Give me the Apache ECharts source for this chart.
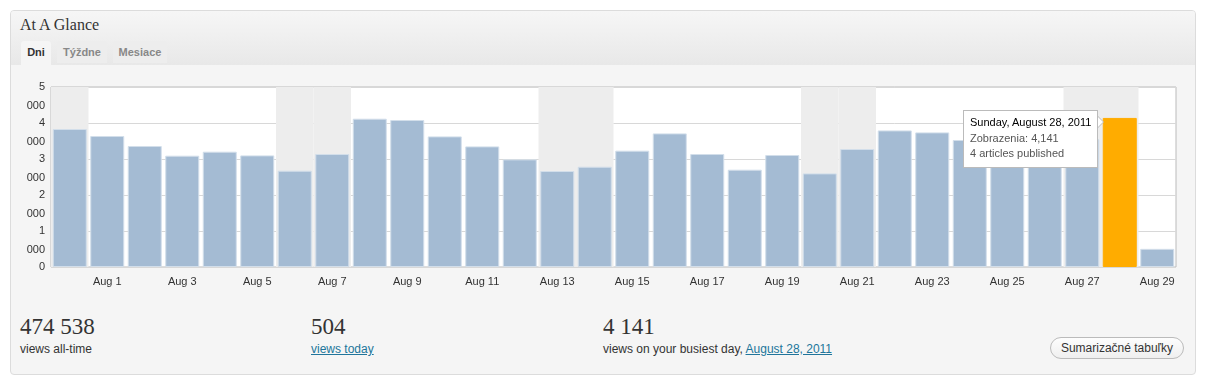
<!DOCTYPE html>
<html>
<head>
<meta charset="utf-8">
<script src="https://cdn.jsdelivr.net/npm/echarts@6/dist/echarts.min.js"></script>
<style>
  html, body { margin:0; padding:0; background:#fff; width:1206px; height:386px; overflow:hidden; font-family:"Liberation Sans", Arial, sans-serif; }
  #panel { position:absolute; left:10px; top:10px; width:1184px; height:363px; border:1px solid #dcdcdc; border-radius:4px; background:#f5f5f5; overflow:hidden; }
  #head { position:absolute; left:0; top:0; width:100%; height:54px; background:linear-gradient(#f6f6f6, #e8e8e8); }
  #title { position:absolute; left:9px; top:5px; font-family:"Liberation Serif", "DejaVu Serif", serif; font-size:16px; color:#333; }
  .tab { position:absolute; top:30px; height:22px; line-height:22px; font-size:11px; font-weight:bold; color:#888; background:#ededed; border-radius:3px 3px 0 0; text-align:center; }
  .tab.active { background:#f5f5f5; color:#333; height:24px; }
  #chart { position:absolute; left:0; top:65px; width:1206px; height:240px; }
  .big { position:absolute; top:314px; font-family:"Liberation Serif", "DejaVu Serif", serif; font-size:23px; color:#333; line-height:26px; }
  .lbl { position:absolute; top:342px; font-size:12px; color:#333; line-height:14px; }
  a { color:#21759b; text-decoration:underline; }
  #btn { position:absolute; left:1050px; top:337px; width:132px; height:20px; line-height:20px; border:1px solid #bbb; border-radius:11px; background:linear-gradient(#fdfdfd, #efefef); font-size:12px; color:#333; text-align:center; }
</style>
</head>
<body>
<div id="panel">
  <div id="head">
    <div id="title">At A Glance</div>
    <div class="tab active" style="left:10px;width:30px;">Dni</div>
    <div class="tab" style="left:46px;width:50px;">Týždne</div>
    <div class="tab" style="left:102px;width:54px;">Mesiace</div>
  </div>
</div>
<div id="chart"></div>
<div class="big" style="left:20px;">474 538</div>
<div class="lbl" style="left:20px;">views all-time</div>
<div class="big" style="left:311px;">504</div>
<div class="lbl" style="left:311px;"><a>views today</a></div>
<div class="big" style="left:603px;">4 141</div>
<div class="lbl" style="left:603px;">views on your busiest day, <a>August 28, 2011</a></div>
<div id="btn">Sumarizačné tabuľky</div>
<script>
// ---- data ----
const categories = ['Jul 31','Aug 1','Aug 2','Aug 3','Aug 4','Aug 5','Aug 6','Aug 7','Aug 8','Aug 9',
  'Aug 10','Aug 11','Aug 12','Aug 13','Aug 14','Aug 15','Aug 16','Aug 17','Aug 18','Aug 19',
  'Aug 20','Aug 21','Aug 22','Aug 23','Aug 24','Aug 25','Aug 26','Aug 27','Aug 28','Aug 29'];
const views = [3833, 3639, 3361, 3092, 3203, 3100, 2675, 3139, 4119, 4083,
  3628, 3350, 2989, 2667, 2786, 3231, 3711, 3139, 2703, 3111,
  2600, 3278, 3794, 3739, 3528, 3650, 3400, 3550, 4141, 504];
const weekend = [1,0,0,0,0,0,1,1,0,0, 0,0,0,1,1,0,0,0,0,0, 1,1,0,0,0,0,0,1,1,0];
const yTicks = [0, 1000, 2000, 3000, 4000, 5000];
const tipDate = 'Sunday, August 28, 2011';
const tipArticles = 4;

const yMax = yTicks[yTicks.length - 1];
const yStep = yTicks[1] - yTicks[0];
const busiest = views.indexOf(Math.max(...views));

const chart = echarts.init(document.getElementById('chart'), null, {renderer:'canvas'});
const font = '"Liberation Sans", Arial, sans-serif';
const yBase = { type:'value', min:yTicks[0], max:yMax, interval:yStep, position:'left',
  axisLine:{show:false}, axisTick:{show:false} };
chart.setOption({
  animation: false,
  grid: { left:51, top:22, width:1125, height:180, show:true, backgroundColor:'#fff', borderColor:'#bbb', borderWidth:1, outerBoundsMode:'none' },
  xAxis: [
    { type:'category', data:categories, boundaryGap:true,
      axisLine:{show:false}, axisTick:{show:false},
      axisLabel:{ interval:(i)=> i % 2 === 1, color:'#333', fontSize:11, fontFamily:font, margin:9 } },
    { type:'category', data:categories, show:false }
  ],
  yAxis: [
    Object.assign({}, yBase, {
      splitLine:{ lineStyle:{ color:'#d8d8d8' } },
      axisLabel:{ color:'#333', fontSize:11, fontFamily:font, margin:6, align:'right',
        showMinLabel:true, showMaxLabel:true,
        formatter:(v)=> String(v / 1000) } }),
    Object.assign({}, yBase, {
      splitLine:{ show:false },
      axisLabel:{ color:'#333', fontSize:11, fontFamily:font, margin:6, align:'right', verticalAlign:'top',
        padding:[13,0,0,0], showMinLabel:true, showMaxLabel:true,
        formatter:(v)=> v === 0 ? '' : '000' } })
  ],
  tooltip: { trigger:'item', alwaysShowContent:true, transitionDuration:0, showDelay:0,
    backgroundColor:'#fff', borderColor:'#bbb', borderWidth:1, padding:[4,6,5,6],
    extraCssText:'border-radius:0;box-shadow:none;overflow:visible;',
    textStyle:{ fontFamily:font, fontSize:11, color:'#555' },
    position:(point, params, dom, rect, size)=> [rect.x - size.contentSize[0] - 5, rect.y - 8],
    formatter:(p)=> '<div style="position:relative;line-height:15.5px;font-family:' + font.replace(/"/g,"'") + ';font-size:11px;">' +
      '<div style="color:#000;">' + tipDate + '</div>' +
      '<div>Zobrazenia: ' + p.value.toLocaleString('en-US') + '</div>' +
      '<div>' + tipArticles + ' articles published</div>' +
      '<div style="position:absolute;right:-13px;top:1px;width:0;height:0;border-top:6px solid transparent;border-bottom:6px solid transparent;border-left:6px solid #bbb;"></div>' +
      '<div style="position:absolute;right:-12px;top:2px;width:0;height:0;border-top:5px solid transparent;border-bottom:5px solid transparent;border-left:5px solid #fff;"></div>' +
      '</div>' },
  series: [
    { type:'bar', xAxisIndex:1, yAxisIndex:0, barWidth:'100%', silent:true, z:1, tooltip:{show:false},
      itemStyle:{ color:'#ededed' },
      data: weekend.map(w => w ? yMax : '-') },
    { type:'bar', xAxisIndex:0, yAxisIndex:0, barWidth:34, z:2,
      itemStyle:{ color:'#a4bbd3', borderColor:'#d2deea', borderWidth:1 },
      emphasis:{ disabled:true },
      data: views.map((v, i) => i === busiest ? { value:v, itemStyle:{ color:'#ffac00', borderColor:'#ffac00' } } : v) }
  ]
});
chart.dispatchAction({ type:'showTip', seriesIndex:1, dataIndex:busiest });
</script>
</body>
</html>
